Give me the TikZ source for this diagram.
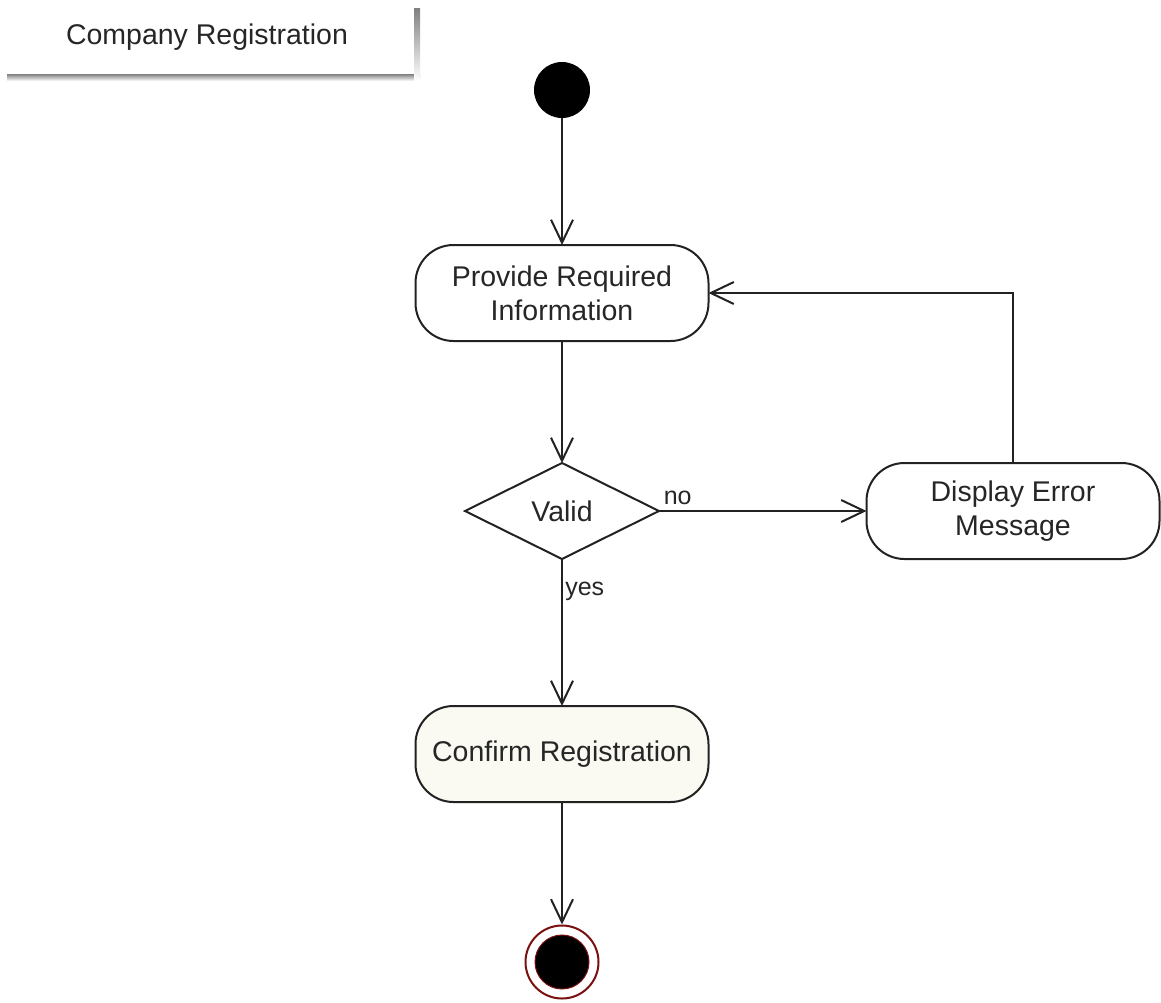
\documentclass[tikz,border=0pt]{standalone}
\usepackage{fontspec}
\setmainfont{Liberation Sans}
\usetikzlibrary{shapes.geometric,arrows.meta}
\definecolor{ink}{HTML}{222222}
\definecolor{txt}{HTML}{262626}
\definecolor{cream}{HTML}{FAFAF3}
\definecolor{shade}{HTML}{A8A8A8}
\definecolor{ring}{HTML}{7A1010}
\begin{document}
\begin{tikzpicture}[x=1pt,y=-1pt,
  every node/.style={text=txt,font=\fontsize{28.5}{34}\selectfont},
  action/.style={draw=ink,line width=2pt,rectangle,rounded corners=38pt,
    minimum width=293pt,minimum height=96pt,align=center,outer sep=0pt,fill=white},
  decision/.style={draw=ink,line width=2pt,diamond,aspect=2,inner sep=0pt,
    minimum width=194pt,minimum height=96pt,outer sep=0pt,fill=white},
  flow/.style={draw=ink,line width=2pt,
    -{Straight Barb[length=23pt,width=22pt,line width=2pt]}},
  guard/.style={font=\fontsize{25}{28}\selectfont}
]
\useasboundingbox (0,0) rectangle (1161,1002);

% title tab: white panel with a grey drop shadow along its bottom and right edges
\fill[shade] (7,74) rectangle (420,81);
\fill[shade] (414,8) rectangle (420,81);
\node (title) at (207,37) {Company Registration};

% initial state
\fill[black] (562,90) circle (28);
\coordinate (start) at (562,118);

% actions and decision
\node[action] (provide) at (562,293) {Provide Required\\Information};
\node[decision] (valid) at (562,511) {Valid};
\node[action] (error) at (1013,511) {Display Error\\Message};
\node[action,fill=cream] (confirm) at (562,754) {Confirm Registration};

% final state
\node[circle,draw=ring,line width=2pt,minimum size=73pt,inner sep=0pt,fill=white] (final) at (562,962) {};
\fill[black] (final.center) circle (27);
\draw[ring,line width=1pt] (final.center) circle (27);

% transitions
\draw[flow] (start) -- (provide.north);
\draw[flow] (provide.south) -- (valid.north);
\draw[flow] (valid.east) -- node[guard,pos=0.09,above=2pt] (no) {no} (error.west);
\draw[flow] (valid.south) -- node[guard,pos=0.22,right=-1pt] (yes) {yes} (confirm.north);
\draw[flow] (error.north) |- (provide.east);
\draw[flow] (confirm.south) -- (final.north);
\end{tikzpicture}
\end{document}
